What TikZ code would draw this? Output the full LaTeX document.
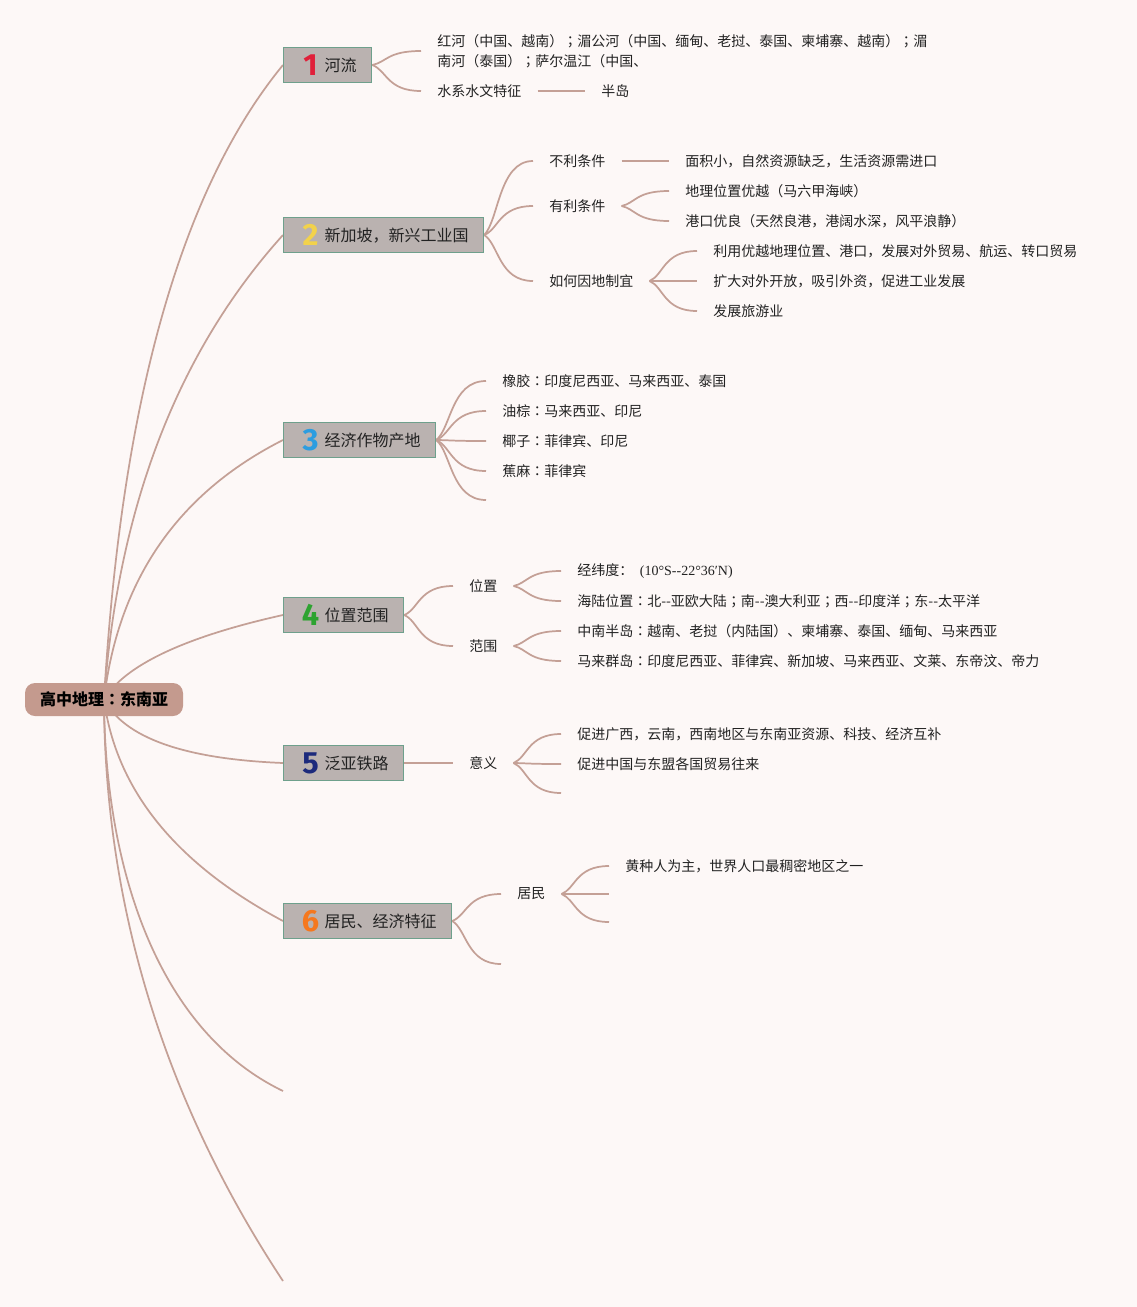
\documentclass[tikz,border=0pt]{standalone}
\usepackage{fontspec}
\newfontfamily\cjk{Noto Sans CJK SC}
\newfontfamily\cjkjp{Noto Sans CJK JP}
\newfontfamily\digf{Fira Sans}
\newfontfamily\tms{Liberation Serif}
\usetikzlibrary{calc,backgrounds}
\definecolor{bgcol}{HTML}{FDF8F7}
\definecolor{linecol}{HTML}{C4A096}
\definecolor{boxcol}{HTML}{BAB2B0}
\definecolor{boxline}{HTML}{6EA08C}
\definecolor{rootcol}{HTML}{C49A8E}
\definecolor{txt}{HTML}{222222}
\definecolor{dred}{HTML}{E0203A}
\definecolor{dyellow}{HTML}{F2D24B}
\definecolor{dblue}{HTML}{2D9DE0}
\definecolor{dgreen}{HTML}{2EA331}
\definecolor{dnavy}{HTML}{1C2A7C}
\definecolor{dorange}{HTML}{F5781E}
\newcommand{\topicnum}[2]{\hspace*{13.5pt}\makebox[13.5pt][c]{\raisebox{-3pt}{\digf\bfseries\fontsize{23}{23}\selectfont\color{#1}#2}}\hspace*{3.75pt}}
\newcommand{\cln}{{\cjkjp ：}}
\newcommand{\smc}{{\cjkjp ；}}
\begin{document}
\begin{tikzpicture}[x=0.75pt,y=-0.75pt,
  font=\cjk\fontsize{10.5}{15}\selectfont,
  every node/.style={text=txt},
  conn/.style={draw=linecol,line width=1.3pt},
  sub/.style={to path={let \p1=(\tikztostart),\p2=(\tikztotarget) in .. controls ({\x1+0.3*(\x2-\x1)},{\y1+0.2*(\y2-\y1)}) and ({\x1+0.3*(\x2-\x1)},\y2) .. (\tikztotarget)}},
  leaf/.style={anchor=west,inner xsep=12pt,inner ysep=2pt},
  topic/.style={anchor=west,fill=boxcol,draw=boxline,line width=0.9pt,inner xsep=0pt,minimum height=26.25pt,font=\cjk\fontsize{12}{14}\selectfont},
  rootnode/.style={fill=rootcol,rounded corners=7.5pt,minimum width=118.5pt,minimum height=24.75pt,font=\cjk\bfseries\fontsize{12}{14}\selectfont,text=black}]
\useasboundingbox (0,0) rectangle (1137,1307);

% root and topics
\node[rootnode] (root) at (104,699.5) {高中地理\cln 东南亚};
\node[topic] (b1) at (283,65) {\topicnum{dred}{1}河流\hspace*{11.25pt}};
\node[topic] (b2) at (283,235) {\topicnum{dyellow}{2}新加坡，新兴工业国\hspace*{11.25pt}};
\node[topic] (b3) at (283,440) {\topicnum{dblue}{3}经济作物产地\hspace*{11.25pt}};
\node[topic] (b4) at (283,615) {\topicnum{dgreen}{4}位置范围\hspace*{11.25pt}};
\node[topic] (b5) at (283,763) {\topicnum{dnavy}{5}泛亚铁路\hspace*{11.25pt}};
\node[topic] (b6) at (283,921) {\topicnum{dorange}{6}居民、经济特征\hspace*{11.25pt}};
\coordinate (e7) at (283,1091);
\coordinate (e8) at (283,1281);

% branch 1
\node[leaf,align=left] (n11) at (421,51) {红河（中国、越南）\smc 湄公河（中国、缅甸、老挝、泰国、柬埔寨、越南）\smc 湄\\南河（泰国）\smc 萨尔温江（中国、};
\node[leaf] (n12) at (421,91) {水系水文特征};
\node[leaf] (n121) at (585,91) {半岛};

% branch 2
\node[leaf] (n21) at (533,161) {不利条件};
\node[leaf] (n211) at (669,161) {面积小，自然资源缺乏，生活资源需进口};
\node[leaf] (n22) at (533,206) {有利条件};
\node[leaf] (n221) at (669,191) {地理位置优越（马六甲海峡）};
\node[leaf] (n222) at (669,221) {港口优良（天然良港，港阔水深，风平浪静）};
\node[leaf] (n23) at (533,281) {如何因地制宜};
\node[leaf] (n231) at (697,251) {利用优越地理位置、港口，发展对外贸易、航运、转口贸易};
\node[leaf] (n232) at (697,281) {扩大对外开放，吸引外资，促进工业发展};
\node[leaf] (n233) at (697,311) {发展旅游业};

% branch 3
\node[leaf] (n31) at (486,381) {橡胶\cln 印度尼西亚、马来西亚、泰国};
\node[leaf] (n32) at (486,411) {油棕\cln 马来西亚、印尼};
\node[leaf] (n33) at (486,441) {椰子\cln 菲律宾、印尼};
\node[leaf] (n34) at (486,471) {蕉麻\cln 菲律宾};
\coordinate (e35) at (486,500);

% branch 4
\node[leaf] (n41) at (453,586) {位置};
\node[leaf] (n42) at (453,646) {范围};
\node[leaf] (n411) at (561,571) {经纬度：\hspace{5pt}{\tms (10°S--22°36′N)}};
\node[leaf] (n412) at (561,601) {海陆位置\cln 北--亚欧大陆\smc 南--澳大利亚\smc 西--印度洋\smc 东--太平洋};
\node[leaf] (n421) at (561,631) {中南半岛\cln 越南、老挝（内陆国）、柬埔寨、泰国、缅甸、马来西亚};
\node[leaf] (n422) at (561,661) {马来群岛\cln 印度尼西亚、菲律宾、新加坡、马来西亚、文莱、东帝汶、帝力};

% branch 5
\node[leaf] (n51) at (453,763) {意义};
\node[leaf] (n511) at (561,734) {促进广西，云南，西南地区与东南亚资源、科技、经济互补};
\node[leaf] (n512) at (561,764) {促进中国与东盟各国贸易往来};
\coordinate (e513) at (561,793);

% branch 6
\node[leaf] (n61) at (501,894) {居民};
\coordinate (e62) at (501,964);
\node[leaf] (n611) at (609,866) {黄种人为主，世界人口最稠密地区之一};
\coordinate (e612) at (609,894);
\coordinate (e613) at (609,922);

\begin{scope}[on background layer]
\fill[bgcol] (0,0) rectangle (1137,1307);
% main branches
\draw[conn] (root.center) .. controls (121.3,400) and (181.7,188.3) .. (b1.west);
\draw[conn] (root.center) .. controls (118,506.7) and (177.7,351.7) .. (b2.west);
\draw[conn] (root.center) .. controls (118,580) and (177.7,493.3) .. (b3.west);
\draw[conn] (root.center) .. controls (124.7,665.3) and (184.3,637) .. (b4.west);
\draw[conn] (root.center) .. controls (124.7,738) and (184.3,759) .. (b5.west);
\draw[conn] (root.center) .. controls (116,790) and (175.7,863.7) .. (b6.west);
\draw[conn] (root.center) .. controls (104.7,866.7) and (157,1030.3) .. (e7);
\draw[conn] (root.center) .. controls (104.7,940) and (185.7,1133.7) .. (e8);
% branch 1
\draw[conn] (b1.east) to[sub] (n11.west);
\draw[conn] (b1.east) to[sub] (n12.west);
\draw[conn] (n12.east) -- (n121.west);
% branch 2
\draw[conn] (b2.east) to[sub] (n21.west);
\draw[conn] (b2.east) to[sub] (n22.west);
\draw[conn] (b2.east) to[sub] (n23.west);
\draw[conn] (n21.east) -- (n211.west);
\draw[conn] (n22.east) to[sub] (n221.west);
\draw[conn] (n22.east) to[sub] (n222.west);
\draw[conn] (n23.east) to[sub] (n231.west);
\draw[conn] (n23.east) to[sub] (n232.west);
\draw[conn] (n23.east) to[sub] (n233.west);
% branch 3
\draw[conn] (b3.east) to[sub] (n31.west);
\draw[conn] (b3.east) to[sub] (n32.west);
\draw[conn] (b3.east) to[sub] (n33.west);
\draw[conn] (b3.east) to[sub] (n34.west);
\draw[conn] (b3.east) to[sub] (e35);
% branch 4
\draw[conn] (b4.east) to[sub] (n41.west);
\draw[conn] (b4.east) to[sub] (n42.west);
\draw[conn] (n41.east) to[sub] (n411.west);
\draw[conn] (n41.east) to[sub] (n412.west);
\draw[conn] (n42.east) to[sub] (n421.west);
\draw[conn] (n42.east) to[sub] (n422.west);
% branch 5
\draw[conn] (b5.east) -- (n51.west);
\draw[conn] (n51.east) to[sub] (n511.west);
\draw[conn] (n51.east) to[sub] (n512.west);
\draw[conn] (n51.east) to[sub] (e513);
% branch 6
\draw[conn] (b6.east) to[sub] (n61.west);
\draw[conn] (b6.east) to[sub] (e62);
\draw[conn] (n61.east) to[sub] (n611.west);
\draw[conn] (n61.east) to[sub] (e612);
\draw[conn] (n61.east) to[sub] (e613);
\end{scope}
\end{tikzpicture}
\end{document}
